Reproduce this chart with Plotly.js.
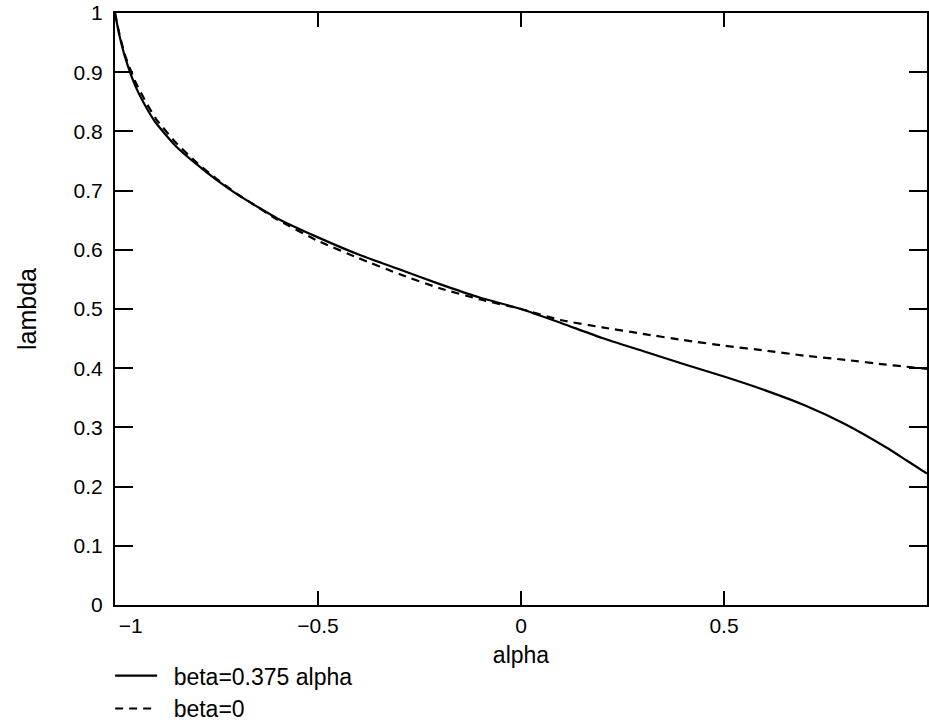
<!DOCTYPE html>
<html>
<head>
<meta charset="utf-8">
<script src="https://cdn.plot.ly/plotly-3.0.1.min.js"></script>
<style>html,body{margin:0;padding:0;background:#fff;}#chart{width:929px;height:727px;}</style>
</head>
<body>
<div id="chart"></div>
<script>
const alpha = [-1, -0.99, -0.975, -0.95, -0.925, -0.9, -0.85, -0.8, -0.75, -0.7, -0.6, -0.5, -0.4, -0.3, -0.2, -0.1, 0, 0.1, 0.2, 0.3, 0.4, 0.5, 0.6, 0.7, 0.8, 0.9, 0.95, 1];
const lambdaBeta0375 = [1.0, 0.965, 0.925, 0.877, 0.843, 0.815, 0.775, 0.745, 0.718, 0.694, 0.653, 0.621, 0.592, 0.567, 0.542, 0.519, 0.5, 0.476, 0.451, 0.429, 0.407, 0.386, 0.363, 0.337, 0.305, 0.266, 0.244, 0.222];
const lambdaBeta0 = [1.0, 0.967, 0.928, 0.884, 0.851, 0.822, 0.781, 0.748, 0.72, 0.695, 0.651, 0.615, 0.586, 0.559, 0.535, 0.516, 0.5, 0.481, 0.469, 0.458, 0.4475, 0.438, 0.43, 0.421, 0.414, 0.406, 0.4025, 0.399];
const seriesNames = ['beta=0.375 alpha', 'beta=0'];
const xTicks = [-1, -0.5, 0, 0.5, 1];
const xTickText = ['\u2002\u2002\u2002\u22121', '\u22120.5', '0', '0.5', '1\u2002'];
const yTicks = [0, 0.1, 0.2, 0.3, 0.4, 0.5, 0.6, 0.7, 0.8, 0.9, 1];
const yTickText = ['0', '0.1', '0.2', '0.3', '0.4', '0.5', '0.6', '0.7', '0.8', '0.9', '1'];

const font = 'Liberation Sans, Arial, Helvetica, sans-serif';
const traces = [
  {x: alpha, y: lambdaBeta0375, name: '\u2002' + seriesNames[0], mode: 'lines', type: 'scatter',
   line: {color: '#000', width: 2.2, shape: 'spline', smoothing: 0.5}},
  {x: alpha, y: lambdaBeta0, name: '\u2002' + seriesNames[1], mode: 'lines', type: 'scatter',
   line: {color: '#000', width: 2.2, dash: '8px,6px', shape: 'spline', smoothing: 0.5}}
];
const layout = {
  width: 929, height: 727,
  margin: {l: 115, r: 2, t: 13, b: 122, autoexpand: false},
  paper_bgcolor: '#fff', plot_bgcolor: '#fff',
  font: {family: font, color: '#000', size: 21},
  showlegend: true,
  legend: {x: -0.006, y: -0.083, xanchor: 'left', yanchor: 'top', itemwidth: 42,
    font: {family: font, size: 23, color: '#000'}, bgcolor: 'rgba(0,0,0,0)', tracegroupgap: 0},
  xaxis: {range: [-1, 1], tickvals: xTicks, ticktext: xTickText,
    ticks: 'inside', ticklen: 14, tickwidth: 2, tickcolor: '#000',
    showline: true, linewidth: 2, linecolor: '#000', mirror: 'ticks',
    showgrid: false, zeroline: false,
    tickfont: {family: font, size: 21}, ticklabelstandoff: 1,
    title: {text: 'alpha', font: {family: font, size: 23}, standoff: 11}},
  yaxis: {range: [0, 1], tickvals: yTicks, ticktext: yTickText,
    ticks: 'inside', ticklen: 18, tickwidth: 2, tickcolor: '#000',
    showline: true, linewidth: 2, linecolor: '#000', mirror: 'ticks',
    showgrid: false, zeroline: false,
    tickfont: {family: font, size: 21}, ticklabelstandoff: 6,
    title: {text: 'lambda', font: {family: font, size: 25}, standoff: 30}}
};
Plotly.newPlot('chart', traces, layout, {displayModeBar: false, staticPlot: true});
</script>
</body>
</html>
